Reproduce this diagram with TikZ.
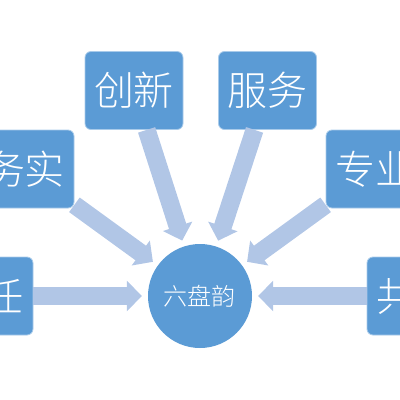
\documentclass[tikz,border=0pt]{standalone}
\usepackage{fontspec}
\usetikzlibrary{arrows.meta,positioning}
\newfontfamily\cjk{Noto Sans CJK SC}[UprightFont={* Light}]
\definecolor{BoxBlue}{HTML}{5B9BD5}
\definecolor{BoxRule}{HTML}{A9CBEA}
\definecolor{ArrowBlue}{HTML}{B1C6E6}
\begin{document}
\begin{tikzpicture}[x=1pt, y=-1pt,
  box/.style={rounded corners=6pt, draw=BoxRule, fill=BoxBlue, line width=0.8pt,
              minimum width=98pt, minimum height=78pt, inner sep=0pt,
              text=white, font=\cjk\fontsize{40}{40}\selectfont},
  hub/.style={circle, fill=BoxBlue, minimum size=104pt, inner sep=0pt,
              text=white, font=\cjk\fontsize{24}{24}\selectfont},
  bigarr/.style={-{Triangle[width=30pt, length=15pt]}, line width=18pt,
                 draw=ArrowBlue, shorten >=6pt}]
  \useasboundingbox (0,0) rectangle (400,400);
  \node[hub] (hub) at (200,296) {六盘韵};
  \node[box] (a) at (134,90.5) {创新};
  \node[box] (b) at (267.5,90.5) {服务};
  \node[box] (c) at (25,169) {务实};
  \node[box] (d) at (375,169) {专业};
  \node[box] (e) at (-16,296) {责任};
  \node[box] (f) at (416,296) {共赢};
  \draw[bigarr] (a)--(hub); \draw[bigarr] (b)--(hub); \draw[bigarr] (c)--(hub);
  \draw[bigarr] (d)--(hub); \draw[bigarr] (e)--(hub); \draw[bigarr] (f)--(hub);
\end{tikzpicture}
\end{document}
